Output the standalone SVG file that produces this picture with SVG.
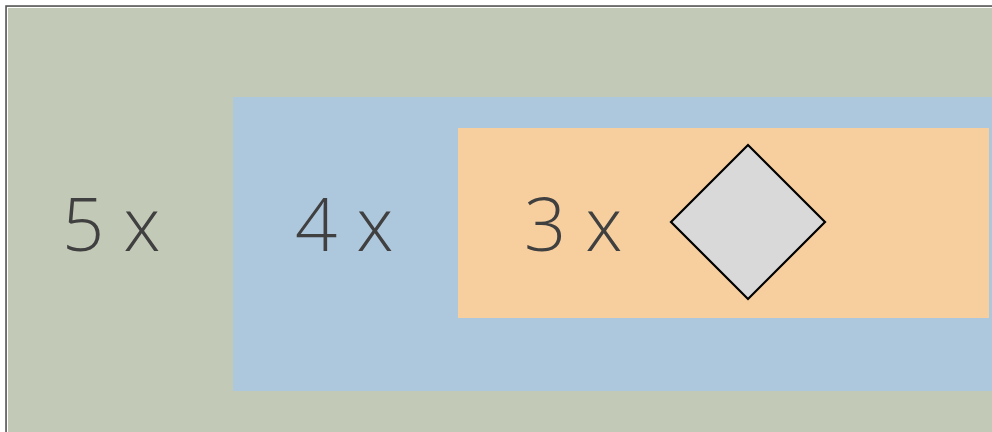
<svg xmlns="http://www.w3.org/2000/svg" width="992" height="432" viewBox="0 0 992 432">
<style>
.lbl{font-family:"Open Sans","Noto Sans","Liberation Sans",sans-serif;font-weight:300;font-size:74px;fill:#404040}
</style>
<rect width="992" height="432" fill="#ffffff"/>
<g id="loop5">
<rect x="6" y="6" width="990" height="430" fill="#c2cab7" stroke="#505050" stroke-width="1.5"/>
<rect x="7.5" y="7.5" width="990" height="430" fill="none" stroke="#ffffff" stroke-width="1"/>
<text class="lbl" x="62" y="251">5 x</text>
</g>
<g id="loop4">
<rect x="233" y="97" width="770" height="294" fill="#adc7dd"/>
<text class="lbl" x="295" y="251">4 x</text>
</g>
<g id="loop3">
<rect x="458" y="128" width="531" height="190" fill="#f7cf9f"/>
<text class="lbl" x="524" y="251">3 x</text>
</g>
<g id="decision">
<polygon points="748,145 825,222 748,299 671,222" fill="#d9d9d9" stroke="#000000" stroke-width="2.2"/>
</g>
<g id="connectors"/>
</svg>
